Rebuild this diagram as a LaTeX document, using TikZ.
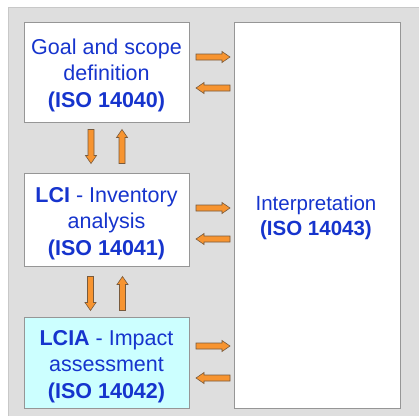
\documentclass[tikz,border=0pt]{standalone}
\usepackage{fontspec}
\setmainfont{Liberation Sans}
\usetikzlibrary{calc}
\definecolor{txtblue}{RGB}{22,52,205}
\definecolor{bggray}{RGB}{222,222,222}
\definecolor{bgedge}{RGB}{200,200,200}
\definecolor{boxedge}{RGB}{150,150,150}
\definecolor{arrfill}{RGB}{247,148,48}
\definecolor{arredge}{RGB}{120,90,60}
\definecolor{lciafill}{RGB}{204,255,255}
\tikzset{
  stagebox/.style={draw=boxedge, line width=1pt, fill=white, minimum width=165pt, inner sep=0pt},
  stagetext/.style={align=center, text=txtblue, inner sep=0pt, font=\fontsize{21.5}{26.5}\selectfont},
  barrowstyle/.style={draw=arredge, fill=arrfill, line width=0.6pt, line join=miter},
}
% #1 = centre, #2 = direction angle, #3 = name of centre coordinate
\newcommand{\blockarr}[3]{%
  \coordinate (#3) at #1;
  \begin{scope}[shift={(#3)}, rotate=#2]
    \draw[barrowstyle] (-17,-3) -- (9,-3) -- (9,-5.5) -- (17,0) -- (9,5.5) -- (9,3) -- (-17,3) -- cycle;
  \end{scope}}
\begin{document}
\begin{tikzpicture}[x=1pt,y=-1pt]
\useasboundingbox (0,0) rectangle (419,415);
\fill[white] (0,0) rectangle (419,415);
\draw[fill=bggray, draw=bgedge, line width=1pt] (8,7.5) rectangle (425,422);
% boxes
\node[stagebox, minimum height=100pt] (goal) at (106.5,72) {};
\node[stagetext] (goaltxt) at ($(goal.center)+(0,3)$) {Goal and scope\\definition\\\textbf{(ISO 14040)}};
\node[stagebox, minimum height=93pt] (lci) at (106.5,219.5) {};
\node[stagetext] (lcitxt) at ($(lci.center)+(0,4)$) {\textbf{LCI} - Inventory\\analysis\\\textbf{(ISO 14041)}};
\node[stagebox, fill=lciafill, minimum height=91pt] (lcia) at (106.5,362.5) {};
\node[stagetext] (lciatxt) at ($(lcia.center)+(0,4)$) {\textbf{LCIA} - Impact\\assessment\\\textbf{(ISO 14042)}};
\node[stagebox, minimum width=166pt, minimum height=386pt] (interp) at (317,215) {};
\node[stagetext, font=\fontsize{20.5}{25}\selectfont] (interptxt) at ($(interp.center)+(-1,3)$) {Interpretation\\\textbf{(ISO 14043)}};
% horizontal arrows
\blockarr{(213,57)}{0}{g2i}
\blockarr{(213,88)}{180}{i2g}
\blockarr{(213,208)}{0}{l2i}
\blockarr{(213,239)}{180}{i2l}
\blockarr{(213,346)}{0}{a2i}
\blockarr{(213,378)}{180}{i2a}
% vertical arrows
\blockarr{(91,146.5)}{270}{g2l}
\blockarr{(122,146.5)}{90}{l2g}
\blockarr{(90.5,293.5)}{270}{l2a}
\blockarr{(122.5,293.5)}{90}{a2l}
\end{tikzpicture}
\end{document}
